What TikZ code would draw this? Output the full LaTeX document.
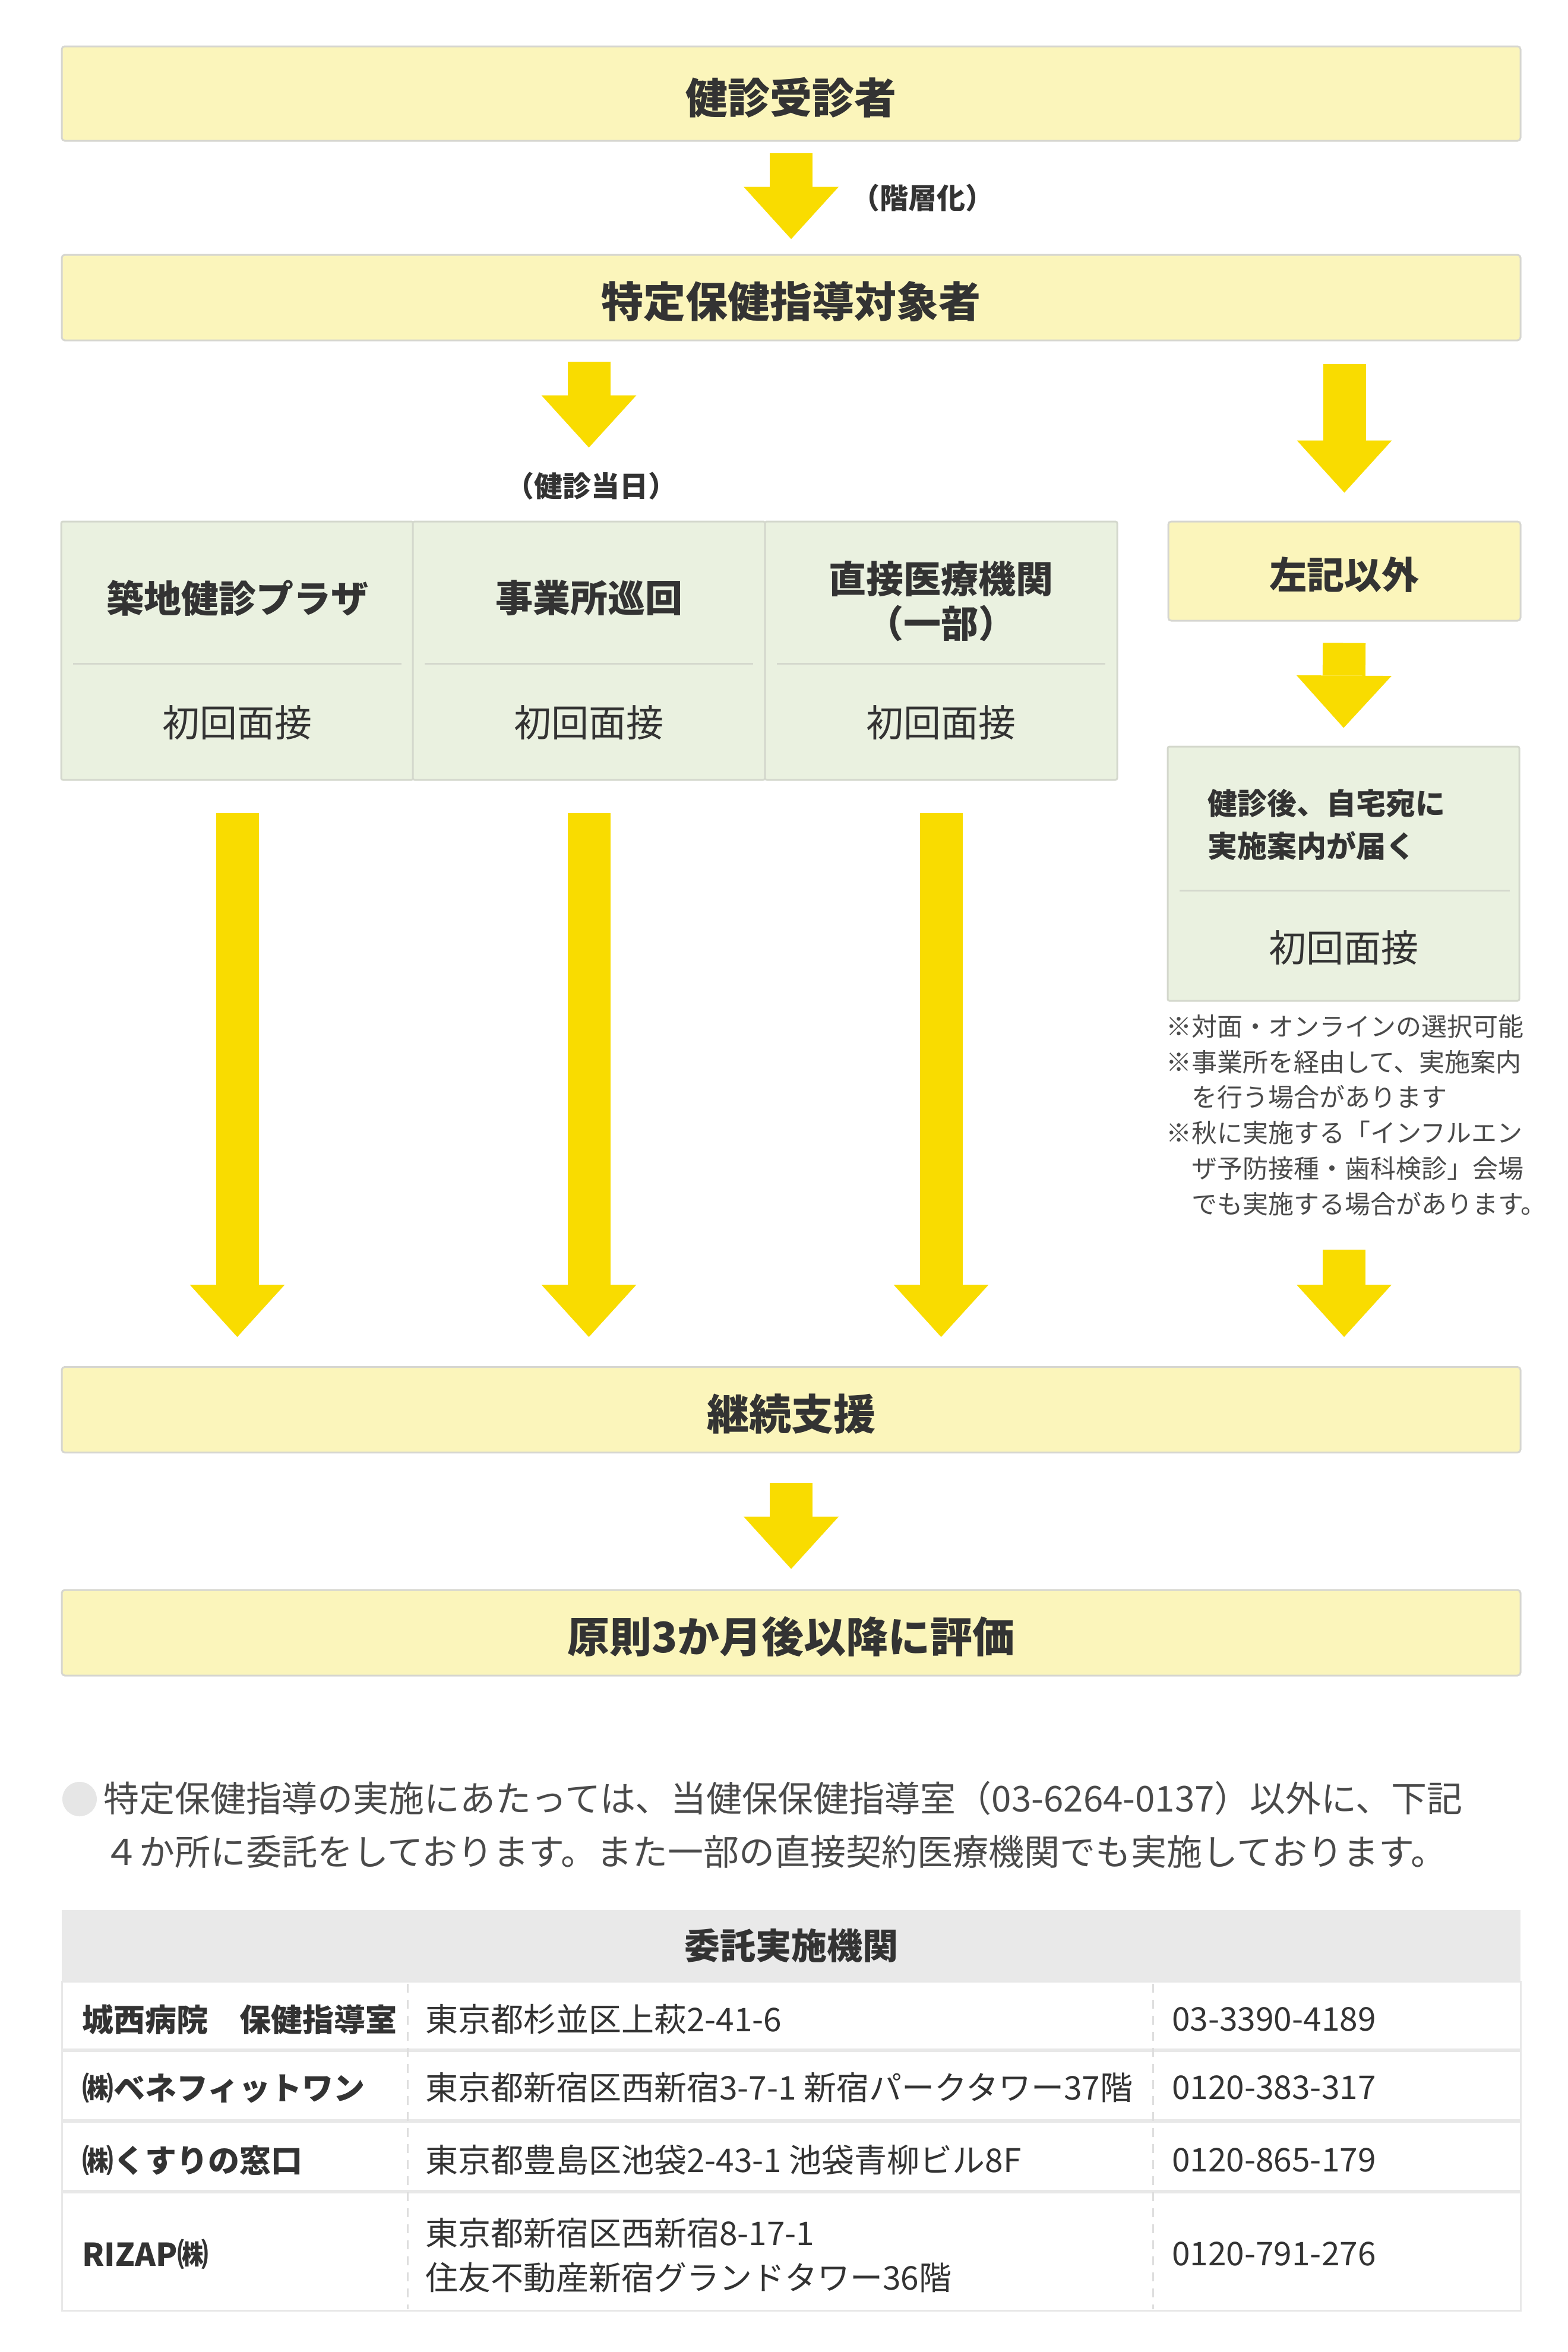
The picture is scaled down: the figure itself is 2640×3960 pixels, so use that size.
\documentclass[tikz,border=0pt]{standalone}
\usepackage{fontspec}
\setmainfont{Noto Sans CJK JP}
\usetikzlibrary{arrows.meta,calc}
\definecolor{txt}{HTML}{333333}
\definecolor{paratxt}{HTML}{4A4A4A}
\definecolor{yfill}{HTML}{FBF5BB}
\definecolor{gfill}{HTML}{EAF1E0}
\definecolor{bordc}{HTML}{D6D6D0}
\definecolor{gbord}{HTML}{D4D8CD}
\definecolor{arrowc}{HTML}{F9DC00}
\definecolor{hdrfill}{HTML}{E9E9E9}
\definecolor{tline}{HTML}{E8E8E8}
\definecolor{dashc}{HTML}{DEDEDE}
\definecolor{bulletc}{HTML}{E6E6E6}
\newcommand\fsz[2]{\fontsize{#1}{#2}\selectfont}
\begin{document}
\begin{tikzpicture}[x=1pt,y=-1pt,
  every node/.style={inner sep=0pt, text=txt},
  ybox/.style={draw=bordc, line width=3pt, fill=yfill, rounded corners=5pt, font=\fsz{71}{85}\bfseries, text height=71pt, text depth=4pt},
  gcell/.style={draw=gbord, line width=3pt, fill=gfill, rounded corners=3pt, minimum width=593pt, minimum height=435pt},
  bigarrow/.style={draw=arrowc, line width=72pt, -{Triangle[length=88pt,width=160pt,line width=0pt]}},
  lbl/.style={font=\fsz{48}{58}\bfseries},
  head/.style={font=\fsz{63}{75}\bfseries, align=center},
  firstv/.style={font=\fsz{63}{75}},
  divl/.style={draw=gbord, line width=3pt},
  col1/.style={anchor=west, font=\fsz{53}{65}\bfseries},
  col2/.style={anchor=west, font=\fsz{55}{75}},
  sepl/.style={draw=tline, line width=6pt},
  dashl/.style={draw=dashc, line width=3pt, dash pattern=on 15pt off 12pt}
]
\useasboundingbox[fill=white] (0,0) rectangle (2640,3960);

% --- top flow ---
\node[ybox, minimum width=2456pt, minimum height=159pt] (b1) at (1332,157.5) {健診受診者};
\node[ybox, minimum width=2456pt, minimum height=144pt] (b2) at (1332,501) {特定保健指導対象者};
\node[lbl] (l1) at (1553,333) {（階層化）};
\draw[bigarrow, shorten <=19pt, shorten >=25pt] (b1.south) -- (b2.north);

% --- green cells ---
\node[gcell] (g1) at (399.5,1095.5) {};
\node[gcell] (g2) at (991.5,1095.5) {};
\node[gcell] (g3) at (1584.5,1095.5) {};
\node[lbl] (l2) at (995,818) {（健診当日）};
\draw[bigarrow, shorten <=34pt, shorten >=123pt] (b2.south -| g2) -- (g2.north);

\node[head] (t1) at (399.5,1007) {築地健診プラザ};
\node[head] (t2) at (991.5,1007) {事業所巡回};
\node[head] (t3) at (1584.5,1012) {直接医療機関\\（一部）};
\draw[divl] (123,1117) -- (676,1117);
\draw[divl] (715,1117) -- (1268,1117);
\draw[divl] (1308,1117) -- (1861,1117);
\node[firstv] (s1) at (399.5,1217) {初回面接};
\node[firstv] (s2) at (991.5,1217) {初回面接};
\node[firstv] (s3) at (1584.5,1217) {初回面接};

% --- right column ---
\node[ybox, minimum width=593pt, minimum height=167pt, font=\fsz{63}{75}\bfseries, text height=63pt, text depth=4pt] (lk) at (2263.5,961.5) {左記以外};
\draw[bigarrow, shorten <=38pt, shorten >=47pt] (b2.south -| lk) -- (lk.north);
\node[gcell, minimum width=592pt, minimum height=428pt] (g4) at (2262,1471) {};
\draw[bigarrow, shorten <=36pt, shorten >=30pt] (lk.south) -- (g4.north);
\node[anchor=west, align=left, font=\fsz{50}{72}\bfseries] (g4t) at (2033,1388) {健診後、自宅宛に\\実施案内が届く};
\draw[divl] (1986,1499) -- (2542,1499);
\node[firstv] (s4) at (2262,1596) {初回面接};
\node[anchor=west, align=left, font=\fsz{43}{59.8}, text=paratxt] (notes) at (1963,1877.5)
  {※対面・オンラインの選択可能\\※事業所を経由して、実施案内\\　を行う場合があります\\※秋に実施する「インフルエン\\　ザ予防接種・歯科検診」会場\\　でも実施する場合があります。};

% --- lower flow ---
\node[ybox, minimum width=2456pt, minimum height=144pt] (b5) at (1332,2373.5) {継続支援};
\node[ybox, minimum width=2456pt, minimum height=144pt] (b6) at (1332,2749) {原則3か月後以降に評価};
\coordinate (n4) at (2263,2104);
\draw[bigarrow, shorten <=54pt, shorten >=49pt] (g1.south) -- (b5.north -| g1);
\draw[bigarrow, shorten <=54pt, shorten >=49pt] (g2.south) -- (b5.north -| g2);
\draw[bigarrow, shorten <=54pt, shorten >=49pt] (g3.south) -- (b5.north -| g3);
\draw[bigarrow, shorten >=49pt] (n4) -- (b5.north -| n4);
\draw[bigarrow, shorten <=50pt, shorten >=34pt] (b5.south) -- (b6.north);

% --- paragraph ---
\fill[bulletc] (134,3029) circle[radius=29pt];
\node[anchor=west, font=\fsz{60}{90}, text=paratxt] (p1) at (174,3028) {特定保健指導の実施にあたっては、当健保保健指導室（03-6264-0137）以外に、下記};
\node[anchor=west, font=\fsz{60}{90}, text=paratxt] (p2) at (174,3118) {４か所に委託をしております。また一部の直接契約医療機関でも実施しております。};

% --- table ---
\node[fill=hdrfill, minimum width=2456pt, minimum height=120pt, font=\fsz{60}{72}\bfseries] (th) at (1332,3276) {委託実施機関};
\draw[draw=tline, line width=3pt] (104,3336) rectangle (2560,3890);
\draw[sepl] (104,3452) -- (2560,3452);
\draw[sepl] (104,3571) -- (2560,3571);
\draw[sepl] (104,3690) -- (2560,3690);
\draw[dashl] (686,3340) -- (686,3888);
\draw[dashl] (1941,3340) -- (1941,3888);

\node[col1] (r1a) at (138,3400) {城西病院　保健指導室};
\node[col2] (r1b) at (716,3400) {東京都杉並区上萩2-41-6};
\node[col2] (r1c) at (1973,3400) {03-3390-4189};
\node[col1] (r2a) at (138,3515) {㈱ベネフィットワン};
\node[col2] (r2b) at (716,3515) {東京都新宿区西新宿3-7-1 新宿パークタワー37階};
\node[col2] (r2c) at (1973,3515) {0120-383-317};
\node[col1] (r3a) at (138,3637) {㈱くすりの窓口};
\node[col2] (r3b) at (716,3637) {東京都豊島区池袋2-43-1 池袋青柳ビル8F};
\node[col2] (r3c) at (1973,3637) {0120-865-179};
\node[col1] (r4a) at (138,3795) {RIZAP㈱};
\node[col2] (r4b) at (716,3760) {東京都新宿区西新宿8-17-1};
\node[col2] (r4d) at (716,3835) {住友不動産新宿グランドタワー36階};
\node[col2] (r4c) at (1973,3795) {0120-791-276};
\end{tikzpicture}
\end{document}
